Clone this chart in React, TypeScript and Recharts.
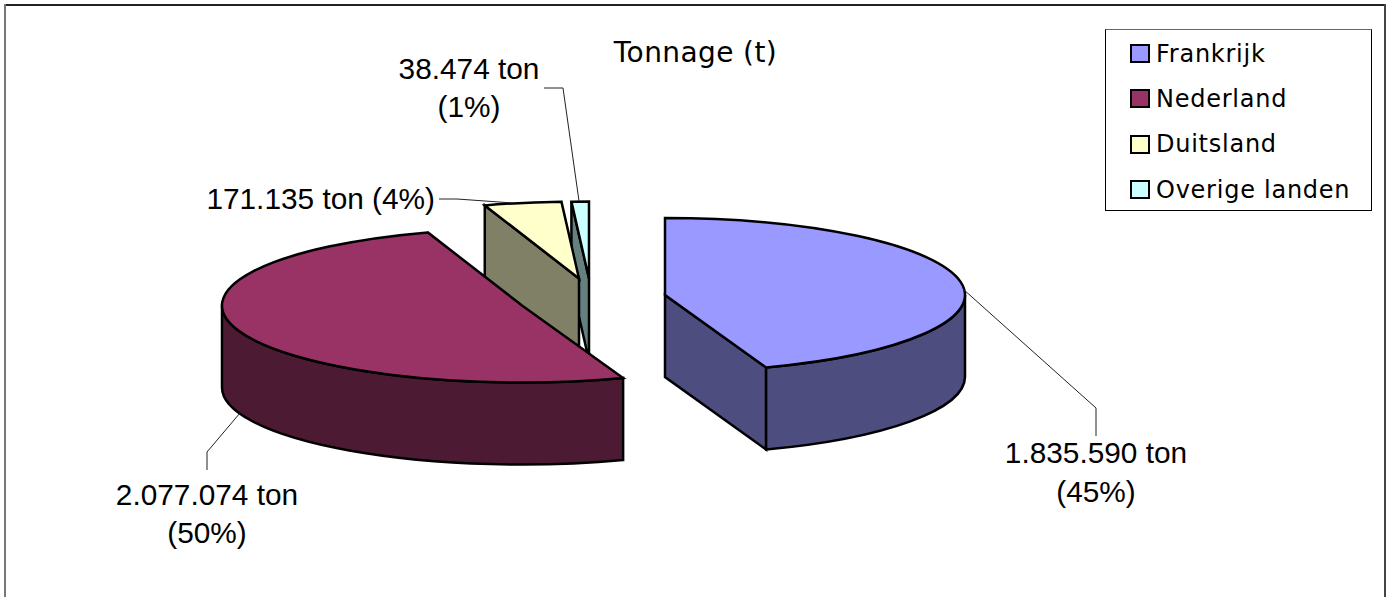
import React from 'react';
import { PieChart, Pie, Legend } from 'recharts';

const categories = ['Frankrijk', 'Nederland', 'Duitsland', 'Overige landen'];
const tons = [1835590, 2077074, 171135, 38474];
const topColors = ['#9999FF', '#993366', '#FFFFCC', '#CCFFFF'];
const sideColors = ['#4D4D80', '#4D1A33', '#808066', '#668080'];

// exploded offset of every slice from the pie centre
const explodeX = [65, -78, -21, -11];
const explodeY = [5, 15.5, -11.5, -11.5];

// label layout: text centre, baselines and leader line
const labelAnchor = ['middle', 'middle', 'end', 'middle'];
const labelX = [1096, 207, 435, 469];
const labelY = [[463, 502], [505, 543], [209], [79, 117]];
const leaders = [
    '963,289 1096,408 1096,436',
    '240,413 207,452 207,470',
    '439,199 457,199 513,203',
    '544,88 563,88 579,201',
];

const CX = 600;
const CY = 290;
const RX = 300;
const RY = 77;
const DEPTH = 82;

// painted back to front, so Nederland lies over the side of Duitsland
const rows = categories
    .map((name, i) => ({ name, tons: tons[i], fill: topColors[i] }))
    .reverse();

const point = (x: number, y: number, deg: number) => {
    const a = (deg * Math.PI) / 180;
    return [x + RX * Math.sin(a), y - RY * Math.cos(a)];
};

const Slice3D = (props: any) => {
    const i = categories.indexOf(props.payload?.name ?? props.name);
    const x = props.cx + explodeX[i];
    const y = props.cy + explodeY[i];
    // recharts angles run counter clockwise from the east, here clockwise from the top
    let start = 90 - props.endAngle;
    if (start < 0) start += 360;
    const end = start + (props.endAngle - props.startAngle);

    const [sx, sy] = point(x, y, start);
    const [ex, ey] = point(x, y, end);
    const large = end - start > 180 ? 1 : 0;
    const line = { stroke: '#000', strokeWidth: 2.5, strokeLinejoin: 'miter' as const };

    const radialWall = (px: number, py: number) => (
        <polygon
            points={`${x},${y} ${px},${py} ${px},${py + DEPTH} ${x},${y + DEPTH}`}
            fill={sideColors[i]}
            {...line}
        />
    );

    const frontFrom = Math.max(start, 90);
    const frontTo = Math.min(end, 270);
    let front = null;
    if (frontFrom < frontTo) {
        const [ax, ay] = point(x, y, frontFrom);
        const [bx, by] = point(x, y, frontTo);
        const d = `M${ax},${ay} A${RX},${RY} 0 0 1 ${bx},${by} L${bx},${by + DEPTH} A${RX},${RY} 0 0 0 ${ax},${ay + DEPTH} Z`;
        front = <path d={d} fill={sideColors[i]} {...line} />;
    }

    return (
        <g>
            {Math.sin((start * Math.PI) / 180) < -0.001 && radialWall(sx, sy)}
            {Math.sin((end * Math.PI) / 180) > 0.001 && radialWall(ex, ey)}
            {front}
            <path
                d={`M${x},${y} L${sx},${sy} A${RX},${RY} 0 ${large} 1 ${ex},${ey} Z`}
                fill={topColors[i]}
                {...line}
            />
        </g>
    );
};

const formatTons = (value: number) => `${String(value).replace(/\B(?=(\d{3})+$)/g, '.')} ton`;

const SliceLabel = (props: any) => {
    const name = props.payload?.name ?? props.name;
    const i = categories.indexOf(name);
    const total = tons.reduce((sum, v) => sum + v, 0);
    const amount = formatTons(tons[i]);
    const share = `(${Math.round((tons[i] / total) * 100)}%)`;
    const lines = labelY[i].length > 1 ? [amount, share] : [`${amount} ${share}`];
    return (
        <g>
            <polyline points={leaders[i]} fill="none" stroke="#222" strokeWidth={1} />
            {lines.map((text, n) => (
                <text
                    key={text}
                    x={labelX[i]}
                    y={labelY[i][n]}
                    textAnchor={labelAnchor[i] as any}
                    fontFamily="Liberation Sans"
                    fontSize={29.8}
                    fill="#000"
                >
                    {text}
                </text>
            ))}
        </g>
    );
};

const LegendBox = () => (
    <div
        style={{
            boxSizing: 'border-box',
            width: 267,
            height: 182,
            border: '1px solid #000',
            borderTopColor: '#666',
            background: '#fff',
            paddingTop: 1,
        }}
    >
        {categories.map((name, i) => (
            <div
                key={name}
                style={{
                    display: 'flex',
                    alignItems: 'center',
                    height: 45.3,
                    paddingLeft: 24,
                    fontFamily: 'DejaVu Sans',
                    fontSize: 24,
                    letterSpacing: 0.75,
                    color: '#000',
                }}
            >
                <span
                    style={{
                        boxSizing: 'border-box',
                        width: 20,
                        height: 19,
                        marginRight: 6,
                        border: '2.5px solid #000',
                        background: topColors[i],
                    }}
                />
                {name}
            </div>
        ))}
    </div>
);

const frameEdge = (style: React.CSSProperties) => (
    <div style={{ position: 'absolute', zIndex: 50, pointerEvents: 'none', ...style }} />
);

const App = () => {
    return (
        <div style={{ position: 'absolute', left: 0, top: 0, width: 1391, height: 597, overflow: 'hidden', background: '#fff' }}>
            <PieChart width={1391} height={597} margin={{ top: 0, right: 0, bottom: 0, left: 0 }}>
                <text x={695.5} y={62} textAnchor="middle" fontFamily="DejaVu Sans" fontSize={28} letterSpacing={0.4} fill="#000">
                    Tonnage (t)
                </text>
                <Pie
                    data={rows}
                    dataKey="tons"
                    nameKey="name"
                    cx={CX}
                    cy={CY}
                    outerRadius={RX}
                    startAngle={90}
                    endAngle={450}
                    paddingAngle={0}
                    shape={Slice3D}
                    label={SliceLabel}
                    labelLine={false}
                    isAnimationActive={false}
                />
                <Legend
                    layout="vertical"
                    align="right"
                    verticalAlign="middle"
                    content={LegendBox}
                    wrapperStyle={{ position: 'absolute', left: 1105, top: 29, right: 'auto', bottom: 'auto', width: 267, height: 182 }}
                />
            </PieChart>
            {frameEdge({ left: 4, top: 4, width: 1382, height: 2, background: '#222' })}
            {frameEdge({ left: 4, top: 4, width: 2, height: 593, background: '#777' })}
            {frameEdge({ left: 1384, top: 4, width: 2, height: 593, background: '#444' })}
        </div>
    );
};

export default App;
